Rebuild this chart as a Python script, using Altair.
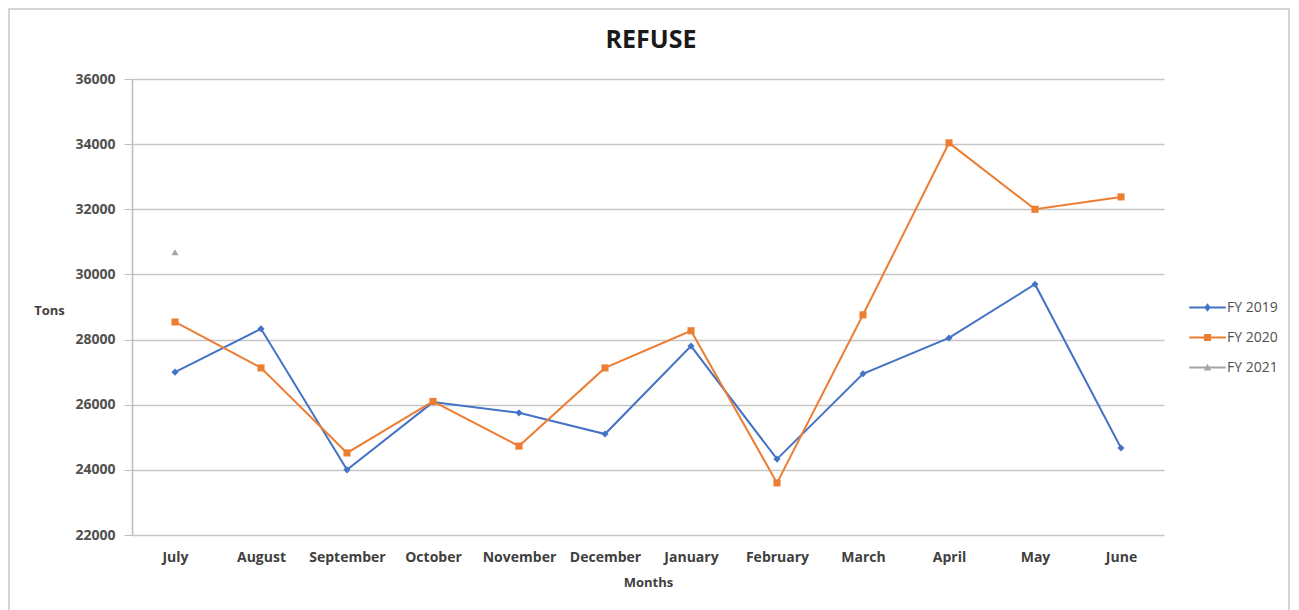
import altair as alt
import pandas as pd

months = ["July", "August", "September", "October", "November", "December",
          "January", "February", "March", "April", "May", "June"]
fy2019 = [27000, 28330, 24000, 26080, 25750, 25100, 27800, 24330, 26950, 28050, 29700, 24670]
fy2020 = [28540, 27130, 24520, 26100, 24730, 27130, 28270, 23600, 28760, 34040, 32000, 32380]
fy2021 = [30680, None, None, None, None, None, None, None, None, None, None, None]
series = ["FY 2019", "FY 2020", "FY 2021"]
colors = ["#4472C4", "#ED7D31", "#A5A5A5"]
shapes = ["diamond", "square", "triangle-up"]
y_ticks = [22000, 24000, 26000, 28000, 30000, 32000, 34000, 36000]
chart_title = "REFUSE"

# legend glyphs: short line with the series marker in the middle
LINE = "M-2.15,-0.12H2.15V0.12H-2.15Z"
legend_shapes = [
    LINE + "M0,-0.5L0.38,0L0,0.5L-0.38,0Z",
    LINE + "M-0.42,-0.42H0.42V0.42H-0.42Z",
    LINE + "M0,-0.45L0.45,0.35H-0.45Z",
]

rows = []
for name, vals in zip(series, [fy2019, fy2020, fy2021]):
    for m, v in zip(months, vals):
        rows.append({"Month": m, "Series": name, "Tons": v})
df = pd.DataFrame(rows)

FONT = "Open Sans"

x_enc = alt.X("Month:N", sort=months,
              scale=alt.Scale(type="point", padding=0.5),
              axis=alt.Axis(title="Months", labelAngle=0, labelFont=FONT,
                            labelFontSize=14, labelFontWeight="bold",
                            labelColor="#404040", labelPadding=15,
                            ticks=False, domain=False, grid=False,
                            titleFont=FONT, titleFontSize=13,
                            titleFontWeight="bold", titleColor="#404040",
                            titlePadding=12))
y_enc = alt.Y("Tons:Q",
              scale=alt.Scale(domain=[22000, 36000], nice=False, zero=False),
              axis=alt.Axis(values=y_ticks, format="d", title="Tons",
                            labelFont=FONT, labelFontSize=14,
                            labelFontWeight="bold", labelColor="#505050",
                            labelPadding=9, tickSize=8, tickColor="#bdbdbd",
                            domainColor="#bdbdbd", domainWidth=1.5,
                            grid=True, gridColor="#c6c6c6", gridWidth=1.5,
                            titleAngle=0, titleX=-83, titleY=231,
                            titleAlign="center", titleBaseline="middle",
                            titleFont=FONT, titleFontSize=13,
                            titleFontWeight="bold", titleColor="#404040"))

color_plain = alt.Color("Series:N",
                        scale=alt.Scale(domain=series, range=colors),
                        legend=None)

base = alt.Chart(df).transform_filter("datum.Tons != null")

lines = base.mark_line(strokeWidth=2).encode(
    x=x_enc, y=y_enc, color=color_plain, detail="Series:N")
points = base.mark_point(filled=True, size=50, opacity=1).encode(
    x=x_enc, y=y_enc, color=color_plain,
    shape=alt.Shape("Series:N", scale=alt.Scale(domain=series, range=shapes),
                    legend=None))

leg_cfg = dict(title=None, orient="none", legendX=1066, legendY=219,
               labelFont=FONT, labelFontSize=14, labelColor="#505050",
               symbolSize=289, rowPadding=13, labelOffset=10)
legend_layer = alt.Chart(df).transform_filter("false").mark_point(
    filled=True, opacity=1).encode(
    x=x_enc, y=y_enc,
    color=alt.Color("Series:N", scale=alt.Scale(domain=series, range=colors),
                    legend=alt.Legend(**leg_cfg)),
    shape=alt.Shape("Series:N",
                    scale=alt.Scale(domain=series, range=legend_shapes),
                    legend=alt.Legend(**leg_cfg)))

frame = alt.Chart(pd.DataFrame({"a": [0]})).mark_rect(
    fill="transparent", stroke="#c8c8c8", strokeWidth=1.5).encode(
    x=alt.value(-123), x2=alt.value(1157),
    y=alt.value(-70), y2=alt.value(540))

title_mark = alt.Chart(pd.DataFrame({"t": [chart_title]})).mark_text(
    font=FONT, fontSize=25, fontWeight="bold", color="#1a1a1a",
    align="center", baseline="alphabetic").encode(
    text="t:N", x=alt.value(519), y=alt.value(-31))

chart = alt.layer(frame, lines, points, legend_layer, title_mark).resolve_scale(
    color="independent", shape="independent"
).resolve_legend(color="independent", shape="independent").properties(
    width=1032, height=456,
    background="white",
    autosize=alt.AutoSizeParams(type="none"),
    padding={"left": 124, "top": 71, "right": 126, "bottom": 75},
).configure_view(stroke="transparent", strokeWidth=0)

chart.save("out.html", embed_options={"renderer": "svg", "actions": False})
